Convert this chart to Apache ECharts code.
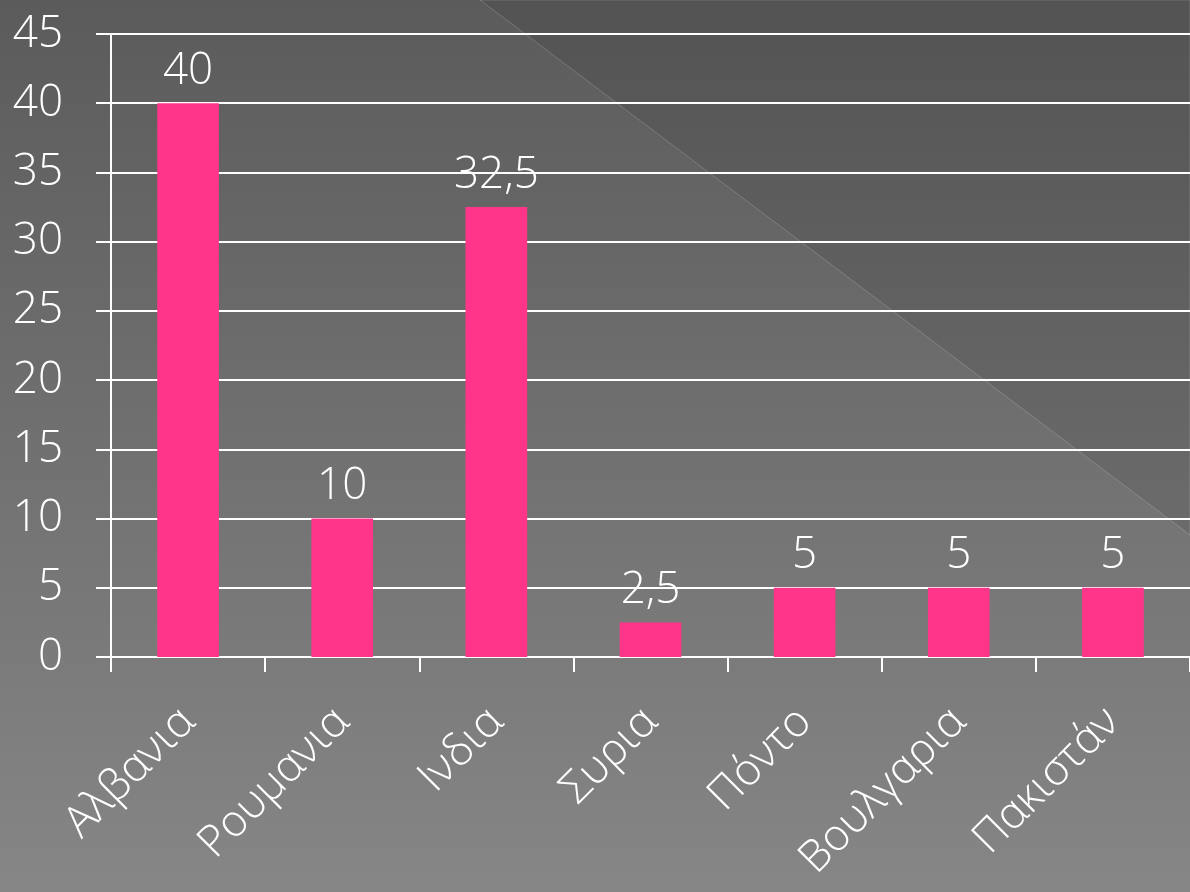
<!DOCTYPE html>
<html>
<head>
<meta charset="utf-8">
<script src="https://cdn.jsdelivr.net/npm/echarts@6/dist/echarts.min.js"></script>
<style>html,body{margin:0;padding:0;}#c{width:1190px;height:892px;}</style>
</head>
<body>
<div id="c"></div>
<script>
const categories = ['Αλβανια', 'Ρουμανια', 'Ινδια', 'Συρια', 'Πόντο', 'Βουλγαρια', 'Πακιστάν'];
const values = [40, 10, 32.5, 2.5, 5, 5, 5];
const yTicks = { min: 0, max: 45, interval: 5 };

const FONT = "'Open Sans', 'Noto Sans', sans-serif";
const chart = echarts.init(document.getElementById('c'), null, { renderer: 'canvas' });
chart.setOption({
  animation: false,
  graphic: [
    {
      type: 'rect', z: -100, silent: true,
      shape: { x: 0, y: 0, width: 1190, height: 892 },
      style: { fill: new echarts.graphic.LinearGradient(0, 0, 0, 1, [
        { offset: 0, color: '#5b5b5b' }, { offset: 1, color: '#868686' }]) }
    },
    {
      type: 'polygon', z: -99, silent: true,
      shape: { points: [[480, 0], [1190, 0], [1190, 535]] },
      style: { fill: 'rgba(0,0,0,0.08)', stroke: 'rgba(255,255,255,0.18)', lineWidth: 1 }
    }
  ],
  grid: { left: 111, top: 34, bottom: 235, right: -6, containLabel: false },
  xAxis: {
    type: 'category',
    data: categories,
    axisLine: { show: true, lineStyle: { color: '#ffffff', width: 2 } },
    axisTick: { show: true, length: 15, lineStyle: { color: '#ffffff', width: 2 } },
    axisLabel: { rotate: 45, color: '#ffffff', fontSize: 44, fontFamily: FONT, fontWeight: 300, margin: 58, interval: 0 }
  },
  yAxis: {
    type: 'value',
    min: yTicks.min, max: yTicks.max, interval: yTicks.interval,
    axisLine: { show: true, lineStyle: { color: '#ffffff', width: 2 } },
    axisTick: { show: true, length: 15, lineStyle: { color: '#ffffff', width: 2 } },
    splitLine: { show: true, lineStyle: { color: '#ffffff', width: 2 } },
    axisLabel: { color: '#ffffff', fontSize: 44, fontFamily: FONT, fontWeight: 300, margin: 48 }
  },
  series: [{
    type: 'bar',
    data: values,
    barWidth: '40%',
    itemStyle: { color: '#ff3589' },
    label: {
      show: true, position: 'top', distance: 10,
      color: '#ffffff', fontSize: 44, fontFamily: FONT, fontWeight: 300,
      formatter: p => String(p.value).replace('.', ',')
    }
  }]
});
</script>
</body>
</html>
